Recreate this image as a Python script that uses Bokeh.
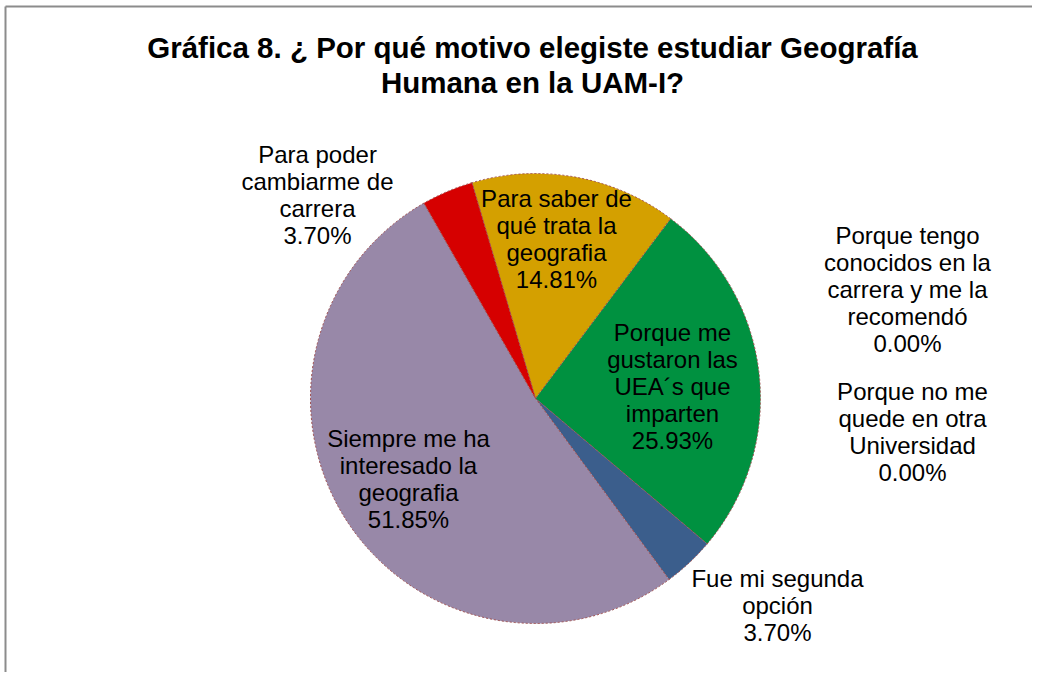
import numpy as np
from bokeh.plotting import figure
from bokeh.models import ColumnDataSource, Range1d
from bokeh.core.properties import value
from bokeh.embed import file_html
from bokeh.resources import INLINE

# ---- data ----
categories = [
    "Para saber de qué trata la geografia",
    "Porque me gustaron las UEA´s que imparten",
    "Fue mi segunda opción",
    "Porque tengo conocidos en la carrera y me la recomendó",
    "Porque no me quede en otra Universidad",
    "Siempre me ha interesado la geografia",
    "Para poder cambiarme de carrera",
]
counts = [4, 7, 1, 0, 0, 14, 1]
colors = ["#D4A000", "#009140", "#3B5E8C", "#4F81BD", "#C0504D", "#9888A8", "#D60000"]
label_lines = [
    ["Para saber de", "qué trata la", "geografia"],
    ["Porque me", "gustaron las", "UEA´s que", "imparten"],
    ["Fue mi segunda", "opción"],
    ["Porque tengo", "conocidos en la", "carrera y me la", "recomendó"],
    ["Porque no me", "quede en otra", "Universidad"],
    ["Siempre me ha", "interesado la", "geografia"],
    ["Para poder", "cambiarme de", "carrera"],
]
title_lines = ["Gráfica 8. ¿ Por qué motivo elegiste estudiar Geografía",
               "Humana en la UAM-I?"]

# ---- layout (screenshot coords -> data coords) ----
W, H = 1032, 672
def X(px): return px - 1
def Y(py): return H - (py - 1)

cx, cy, R = 536, 399, 225
start_deg = -16.4  # clockwise from top
label_pos = [(557, 199), (673, 333), (778, 579), (908, 236), (913, 392), (409, 439), (318, 155)]
line_h = 27

total = sum(counts)
pct = [100.0 * c / total for c in counts]
cum = np.concatenate([[0], np.cumsum(counts)])
theta_a = start_deg + 360.0 * cum[:-1] / total
theta_b = start_deg + 360.0 * cum[1:] / total

keep = [i for i, c in enumerate(counts) if c > 0]
src = ColumnDataSource(dict(
    x=[X(cx)] * len(keep), y=[Y(cy)] * len(keep),
    start=[np.radians(90 - theta_b[i]) for i in keep],
    end=[np.radians(90 - theta_a[i]) for i in keep],
    color=[colors[i] for i in keep], cat=[categories[i] for i in keep],
))

p = figure(width=W, height=H, x_range=Range1d(0, W), y_range=Range1d(0, H),
           output_backend="svg", toolbar_location=None, min_border=0)
p.axis.visible = False
p.grid.visible = False
p.outline_line_color = None
p.background_fill_color = "white"
p.border_fill_color = "white"

# chart frame (only left and top edges visible in the reference)
fx, fy = X(6), Y(7)
p.segment(x0=[fx, fx], y0=[0, fy], x1=[fx, W], y1=[fy, fy],
          line_color="#8c8c8c", line_width=2)

p.wedge(x="x", y="y", radius=R, start_angle="start", end_angle="end",
        direction="anticlock", fill_color="color", line_color="#A05050",
        line_width=1, line_dash="2 2", source=src)

# labels
tx, ty, tt = [], [], []
for i, lines in enumerate(label_lines):
    lx, ly = label_pos[i]
    all_lines = lines + ["%.2f%%" % pct[i]]
    for j, s in enumerate(all_lines):
        tx.append(X(lx)); ty.append(Y(ly + j * line_h)); tt.append(s)
p.text(x=tx, y=ty, text=tt, text_font=value("Liberation Sans"), text_font_size="24px",
       text_align="center", text_baseline="middle", text_color="black")

# title
p.text(x=[X(533), X(533)], y=[Y(48), Y(83)], text=title_lines,
       text_font=value("Liberation Sans"), text_font_style="bold", text_font_size="29.5px",
       text_align="center", text_baseline="middle", text_color="black")

open("out.html", "w").write(file_html(p, INLINE))
